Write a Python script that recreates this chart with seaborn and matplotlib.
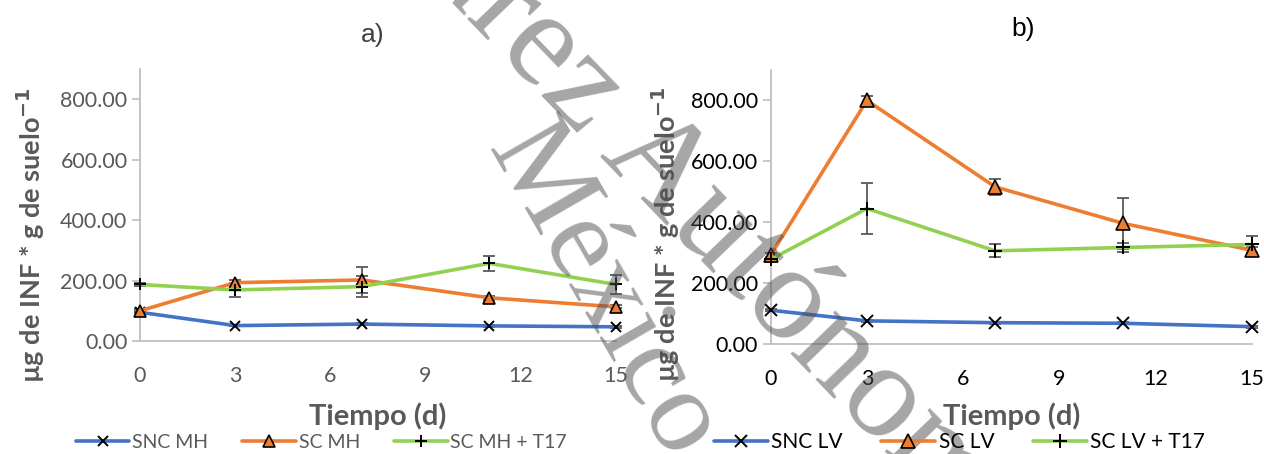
import matplotlib
matplotlib.use("Agg")
import matplotlib.pyplot as plt
import seaborn as sns
import numpy as np
import pandas as pd
from matplotlib.ticker import FuncFormatter

# ---------------- data ----------------
days = [0, 3, 7, 11, 15]
x_ticks = [0, 3, 6, 9, 12, 15]
y_ticks = [0, 200, 400, 600, 800]

labels_a = ["SNC MH", "SC MH", "SC MH + T17"]
snc_mh = [95, 51, 56, 50, 47]
snc_mh_err = [3, 3, 3, 3, 3]
sc_mh = [100, 193, 202, 143, 113]
sc_mh_err = [5, 10, 44, 6, 5]
sc_mh_t17 = [187, 169, 180, 257, 187]
sc_mh_t17_err = [5, 24, 36, 24, 31]

labels_b = ["SNC LV", "SC LV", "SC LV + T17"]
snc_lv = [111, 76, 70, 68, 57]
snc_lv_err = [3, 3, 3, 3, 3]
sc_lv = [292, 800, 516, 396, 308]
sc_lv_err = [8, 14, 26, 85, 10]
sc_lv_t17 = [278, 445, 306, 317, 327]
sc_lv_t17_err = [8, 83, 21, 16, 28]

colors = ["#4472C4", "#ED7D31", "#92D050"]
markers = ["x", "^", "+"]

# ---------------- figure ----------------
sns.set_theme(style="white")
plt.rcParams["font.family"] = ["Lato", "DejaVu Sans"]

fig = plt.figure(figsize=(12.64, 4.54), dpi=100)
axA = fig.add_axes([140 / 1264, (454 - 341) / 454, 476 / 1264, 272 / 454])
axB = fig.add_axes([770.7 / 1264, (454 - 344) / 454, 481 / 1264, 274 / 454])


def draw(ax, series, errs, labels, msizes, tick_color):
    for vals, err, lab, col, mk, ms in zip(series, errs, labels, colors, markers, msizes):
        df = pd.DataFrame({"Tiempo": days, "valor": vals})
        sns.lineplot(data=df, x="Tiempo", y="valor", ax=ax, color=col, lw=2.6,
                     marker=mk, markersize=ms, markeredgecolor="black",
                     markerfacecolor=col, markeredgewidth=1.4 if mk != "^" else 1.2,
                     label=lab, clip_on=False, zorder=4)
        ax.errorbar(days, vals, yerr=err, fmt="none", ecolor="#595959",
                    elinewidth=1.3, capsize=4, capthick=1.3, zorder=3, clip_on=False)
    ax.set_xlim(0, 15)
    ax.set_ylim(0, 900)
    ax.set_xticks(x_ticks)
    ax.set_yticks(y_ticks)
    ax.yaxis.set_major_formatter(FuncFormatter(lambda v, p: f"{v:.2f}"))
    for s in ["top", "right"]:
        ax.spines[s].set_visible(False)
    for s in ["left", "bottom"]:
        ax.spines[s].set_color("#BFBFBF")
        ax.spines[s].set_linewidth(1.3)
    ax.tick_params(axis="y", which="both", left=True, length=6, width=1.2,
                   color="#BFBFBF", labelsize=15.5, labelcolor=tick_color, pad=3)
    ax.tick_params(axis="x", bottom=False, labelsize=15.5, labelcolor=tick_color, pad=12)
    ax.set_xlabel("Tiempo (d)", fontsize=21, fontweight="bold", color="#595959")
    ax.set_ylabel(r"µg de INF * g de suelo$^{\mathbf{-1}}$", fontsize=19.5,
                  fontweight="bold", color="#595959")
    leg = ax.get_legend()
    if leg is not None:
        leg.remove()


draw(axA, [snc_mh, sc_mh, sc_mh_t17], [snc_mh_err, sc_mh_err, sc_mh_t17_err],
     labels_a, [7, 9, 9], "#595959")
draw(axB, [snc_lv, sc_lv, sc_lv_t17], [snc_lv_err, sc_lv_err, sc_lv_t17_err],
     labels_b, [9, 10, 10], "black")

axA.yaxis.set_label_coords(-0.195, 0.39)
axB.yaxis.set_label_coords(-0.185, 0.40)
axA.xaxis.set_label_coords(0.5, -0.224)
axB.xaxis.set_label_coords(0.5, -0.212)

fig.text(373 / 1264, 1 - 35 / 454, "a)", family="Liberation Sans", fontsize=19,
         color="#404040", ha="center", va="center")
fig.text(1023 / 1264, 1 - 29 / 454, "b)", family="Liberation Sans", fontsize=19,
         color="black", ha="center", va="center")

hA, lA = axA.get_legend_handles_labels()
fig.legend(hA, lA, loc="center left", bbox_to_anchor=(76 / 1264, 1 - 442 / 454),
           ncol=3, frameon=False, fontsize=14, labelcolor="#595959",
           handlelength=2.75, handletextpad=0.15, columnspacing=1.75,
           borderpad=0, borderaxespad=0)
hB, lB = axB.get_legend_handles_labels()
fig.legend(hB, lB, loc="center left", bbox_to_anchor=(714 / 1264, 1 - 442 / 454),
           ncol=3, frameon=False, fontsize=15, labelcolor="black",
           handlelength=2.6, handletextpad=0.15, columnspacing=1.85,
           borderpad=0, borderaxespad=0)

# watermark
fig.text(692 / 1264, 1 - 205 / 454, "Juárez Autónoma", family="Liberation Serif",
         fontsize=98, color="#4d4d4d", alpha=0.5, rotation=-46,
         ha="center", va="center", rotation_mode="anchor")
fig.text(602 / 1264, 1 - 292 / 454, "México", family="Liberation Serif",
         fontsize=86, color="#4d4d4d", alpha=0.5, rotation=-60,
         ha="center", va="center", rotation_mode="anchor")

fig.savefig("out.png", dpi=100)
